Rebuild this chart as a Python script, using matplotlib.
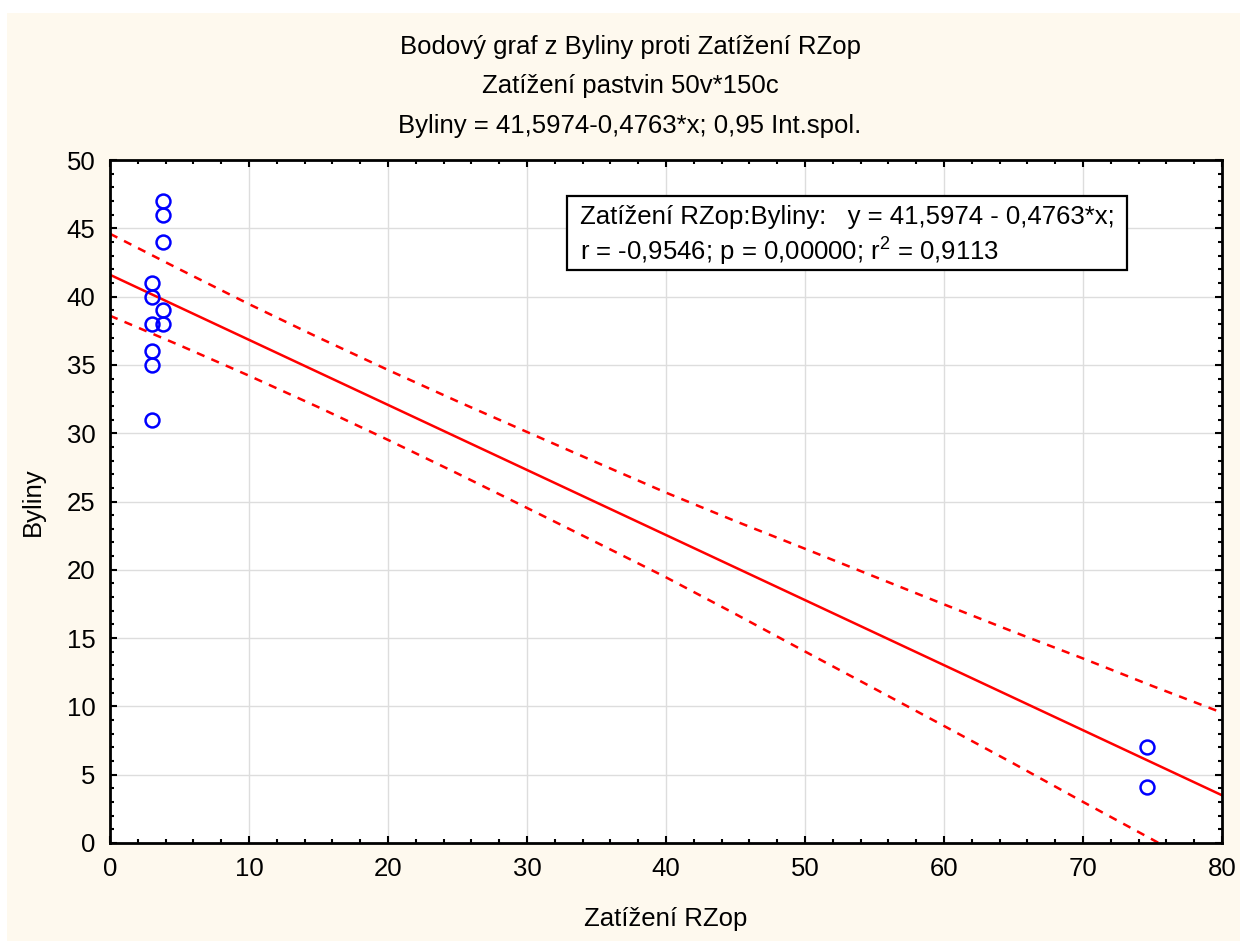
import numpy as np
import matplotlib
matplotlib.use("Agg")
import matplotlib.pyplot as plt
from matplotlib.patches import Rectangle
from matplotlib.ticker import MultipleLocator

plt.rcParams['font.family'] = ['Liberation Sans', 'DejaVu Sans']

# scatter data (Zatížení RZop vs Byliny)
rzop = [3.8, 3.8, 3.8, 3.8, 3.8, 3.0, 3.0, 3.0, 3.0, 3.0, 3.0, 74.6, 74.6]
byliny = [47, 46, 44, 39, 38, 41, 40, 38, 36, 35, 31, 7.0, 4.1]

# regression line (from the chart text)
intercept = 41.5974
slope = -0.4763

# 0,95 confidence band
band_x = [0, 5, 10, 15, 20, 25, 30, 35, 40, 45, 50, 55, 60, 65, 70, 75, 80]
band_upper = [44.60, 42.00, 39.45, 37.00, 34.63, 32.33, 30.09, 27.86, 25.65,
              23.56, 21.54, 19.50, 17.47, 15.46, 13.51, 11.49, 9.54]
band_lower = [38.60, 36.44, 34.21, 31.90, 29.51, 27.05, 24.53, 22.00, 19.45,
              16.76, 14.02, 11.30, 8.57, 5.82, 3.01, 0.25, -2.56]

title_lines = ["Bodový graf z Byliny proti Zatížení RZop",
               "Zatížení pastvin 50v*150c",
               "Byliny = 41,5974-0,4763*x; 0,95 Int.spol."]
stat_lines = ["Zatížení RZop:Byliny:   y = 41,5974 - 0,4763*x;",
              "r = -0,9546; p = 0,00000; r$^2$ = 0,9113"]

plt.rcParams['mathtext.fontset'] = 'custom'
plt.rcParams['mathtext.rm'] = 'Liberation Sans'
plt.rcParams['mathtext.it'] = 'Liberation Sans'

FS = 18.5

fig = plt.figure(figsize=(12.43, 9.41), dpi=100, facecolor='white')
# cream background panel
fig.patches.append(Rectangle((7 / 1243, 0), 1233 / 1243, 928 / 941,
                             transform=fig.transFigure, facecolor='#FEF9EE',
                             edgecolor='none', zorder=-10))

ax = fig.add_axes([110 / 1243, 1 - 843 / 941, 1112 / 1243, 683 / 941])
ax.set_facecolor('white')

ax.plot(band_x, band_upper, color='red', lw=1.8, dashes=(3.3, 3.0))
ax.plot(band_x, band_lower, color='red', lw=1.8, dashes=(3.3, 3.0))
ax.axline((0, intercept), slope=slope, color='red', lw=1.8)
ax.plot(rzop, byliny, 'o', mfc='none', mec='#0000FF', mew=1.8, ms=10,
        clip_on=False, zorder=5)

ax.set_xlim(0, 80)
ax.set_ylim(0, 50)
ax.xaxis.set_major_locator(MultipleLocator(10))
ax.xaxis.set_minor_locator(MultipleLocator(2))
ax.yaxis.set_major_locator(MultipleLocator(5))
ax.yaxis.set_minor_locator(MultipleLocator(1))
ax.grid(True, which='major', color='#DDDDDD', lw=1)
ax.set_axisbelow(True)
ax.tick_params(which='both', direction='in', top=True, right=True,
               labelsize=FS, color='black')
ax.tick_params(which='major', length=5, width=1.5)
ax.tick_params(which='minor', length=3, width=1.5)
ax.tick_params(axis='y', pad=10.5)
ax.tick_params(axis='x', pad=10)
for s in ax.spines.values():
    s.set_linewidth(2)

ax.set_xlabel("Zatížení RZop", fontsize=FS)
ax.set_ylabel("Byliny", fontsize=FS)
ax.xaxis.set_label_coords(0.5, -0.093)
ax.yaxis.set_label_coords(-0.059, 0.5)

for i, line in enumerate(title_lines):
    fig.text(630 / 1243, 1 - (47 + 39.5 * i) / 941, line, ha='center',
             va='center', fontsize=FS)

# statistics box
ax.add_patch(Rectangle((0.411, 0.839), 0.5036, 0.1083, transform=ax.transAxes,
                       facecolor='white', edgecolor='black', lw=1.6, zorder=6))
ax.text(0.4227, 0.9166, stat_lines[0], transform=ax.transAxes, va='center',
        fontsize=FS, zorder=7)
ax.text(0.4227, 0.8653, stat_lines[1], transform=ax.transAxes, va='center',
        fontsize=FS, zorder=7)

fig.savefig("out.png", dpi=100, facecolor=fig.get_facecolor())
